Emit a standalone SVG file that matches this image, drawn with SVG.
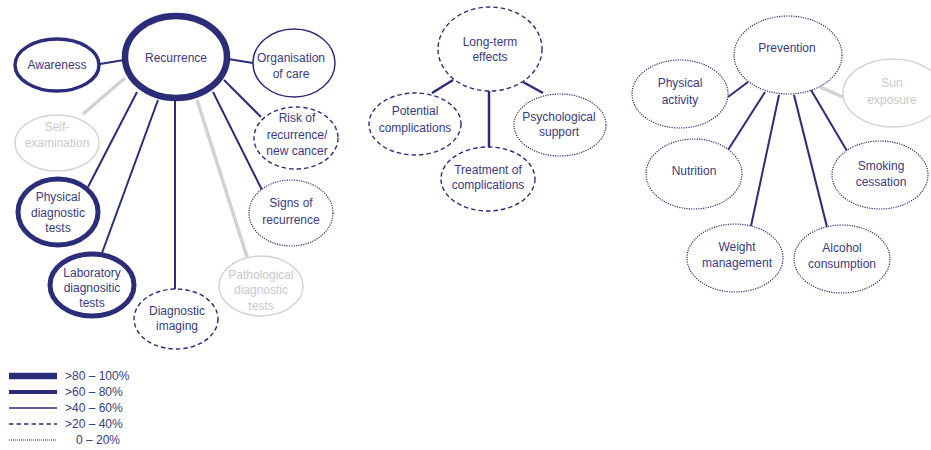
<svg xmlns="http://www.w3.org/2000/svg" width="931" height="450" viewBox="0 0 931 450">
<style>
text{font-family:"Liberation Sans","Noto Sans",Arial,sans-serif;font-size:12px;fill:#3a3a7e;text-anchor:middle}
text.g{fill:#c9c9c9}
text.l{text-anchor:start}
ellipse{fill:#fff}
.n6{stroke:#2c2d78;stroke-width:6.5}
.n5{stroke:#2c2d78;stroke-width:5}
.n4{stroke:#2c2d78;stroke-width:3.5}
.n2{stroke:#2c2d78;stroke-width:1.5}
.nd{stroke:#2c2d78;stroke-width:1.4;stroke-dasharray:4.5 3}
.nt{stroke:#2c2d78;stroke-width:1.2;stroke-dasharray:1.2 1.2}
.ng{stroke:#d4d4d4;stroke-width:1.5}
.c{stroke:#2c2d78;stroke-width:2;fill:none}
.cg{stroke:#d2d2d2;stroke-width:3.5;fill:none}
.c3{stroke:#2c2d78;stroke-width:2.5;fill:none}
</style>
<g id="connectors">
<line class="c" x1="100" y1="64" x2="124" y2="60"/>
<line class="c" x1="228" y1="59" x2="253" y2="63"/>
<line class="c" x1="224" y1="80" x2="261" y2="117"/>
<line class="c" x1="213" y1="92" x2="262" y2="190"/>
<line class="c" x1="175" y1="100" x2="175" y2="290"/>
<line class="cg" x1="197" y1="100" x2="247" y2="257"/>
<line class="cg" x1="125" y1="78" x2="83" y2="114"/>
<line class="c" x1="137" y1="92" x2="88" y2="187"/>
<line class="c" x1="158" y1="100" x2="102" y2="253"/>
<line class="c3" x1="453" y1="80" x2="432" y2="93"/>
<line class="c3" x1="489" y1="91" x2="489" y2="147"/>
<line class="c3" x1="523" y1="82" x2="543" y2="93"/>
<line class="c" x1="748" y1="82" x2="728" y2="97"/>
<line class="c" x1="765" y1="92" x2="728" y2="150"/>
<line class="c" x1="779" y1="95" x2="751" y2="226"/>
<line class="c" x1="794" y1="95" x2="827" y2="227"/>
<line class="c" x1="811" y1="90" x2="847" y2="151"/>
<line class="cg" x1="820" y1="87" x2="843" y2="97"/>
</g>
<g id="recurrence"><ellipse class="n6" cx="176" cy="57" rx="51" ry="41"/><text x="176" y="62">Recurrence</text></g>
<g id="awareness"><ellipse class="n4" cx="57" cy="65" rx="42" ry="26"/><text x="57" y="69">Awareness</text></g>
<g id="organisation"><ellipse class="n2" cx="294" cy="63" rx="41" ry="34"/><text x="291" y="62">Organisation</text><text x="291" y="78">of care</text></g>
<g id="risk"><ellipse class="nd" cx="296" cy="138" rx="42" ry="31"/><text x="297" y="122">Risk of</text><text x="297" y="139">recurrence/</text><text x="297" y="155">new cancer</text></g>
<g id="self-examination"><ellipse class="ng" cx="57" cy="143" rx="42" ry="28"/><text class="g" x="57" y="131">Self-</text><text class="g" x="57" y="147">examination</text></g>
<g id="physical-tests"><ellipse class="n5" cx="58" cy="212" rx="40" ry="33"/><text x="58" y="201">Physical</text><text x="58" y="217">diagnostic</text><text x="58" y="232">tests</text></g>
<g id="laboratory-tests"><ellipse class="n5" cx="92" cy="285" rx="42" ry="31"/><text x="92" y="277">Laboratory</text><text x="92" y="292">diagnositic</text><text x="92" y="307">tests</text></g>
<g id="diagnostic-imaging"><ellipse class="nd" cx="176" cy="319" rx="42" ry="30"/><text x="177" y="315">Diagnostic</text><text x="177" y="330">imaging</text></g>
<g id="pathological-tests"><ellipse class="ng" cx="261" cy="286" rx="42" ry="30"/><text class="g" x="261" y="279">Pathological</text><text class="g" x="261" y="294">diagnostic</text><text class="g" x="261" y="310">tests</text></g>
<g id="signs"><ellipse class="nt" cx="291" cy="213" rx="42" ry="33"/><text x="291" y="207">Signs of</text><text x="291" y="224">recurrence</text></g>
<g id="long-term"><ellipse class="nd" cx="490" cy="49" rx="52" ry="42"/><text x="490" y="46">Long-term</text><text x="490" y="61">effects</text></g>
<g id="potential"><ellipse class="nd" cx="415" cy="124" rx="46" ry="31"/><text x="415" y="115">Potential</text><text x="415" y="132">complications</text></g>
<g id="treatment"><ellipse class="nd" cx="488" cy="179" rx="47" ry="32"/><text x="488" y="174">Treatment of</text><text x="488" y="189">complications</text></g>
<g id="psychological"><ellipse class="nt" cx="560" cy="125" rx="46" ry="31"/><text x="559" y="121">Psychological</text><text x="559" y="136">support</text></g>
<g id="prevention"><ellipse class="nt" cx="788" cy="55" rx="54" ry="39"/><text x="787" y="52">Prevention</text></g>
<g id="physical-activity"><ellipse class="nt" cx="680" cy="94" rx="48" ry="34"/><text x="680" y="87">Physical</text><text x="680" y="104">activity</text></g>
<g id="sun-exposure"><ellipse class="ng" cx="893" cy="93" rx="50" ry="34"/><text class="g" x="892" y="87">Sun</text><text class="g" x="892" y="104">exposure</text></g>
<g id="nutrition"><ellipse class="nt" cx="694" cy="174" rx="48" ry="35"/><text x="694" y="175">Nutrition</text></g>
<g id="smoking"><ellipse class="nt" cx="880" cy="175" rx="48" ry="34"/><text x="881" y="170">Smoking</text><text x="881" y="186">cessation</text></g>
<g id="weight"><ellipse class="nt" cx="735" cy="258" rx="48" ry="34"/><text x="737" y="251">Weight</text><text x="737" y="267">management</text></g>
<g id="alcohol"><ellipse class="nt" cx="842" cy="259" rx="48" ry="34"/><text x="842" y="252">Alcohol</text><text x="842" y="268">consumption</text></g>
<g id="legend">
<line x1="9" y1="376" x2="57" y2="376" stroke="#2c2d78" stroke-width="6.5"/>
<line x1="9" y1="392" x2="57" y2="392" stroke="#2c2d78" stroke-width="4"/>
<line x1="9" y1="408" x2="57" y2="408" stroke="#2c2d78" stroke-width="1.5"/>
<line x1="9" y1="424" x2="57" y2="424" stroke="#2c2d78" stroke-width="1.4" stroke-dasharray="4.5 3"/>
<line x1="9" y1="440" x2="57" y2="440" stroke="#2c2d78" stroke-width="1" stroke-dasharray="1 1"/>
<text class="l" x="65" y="380">&gt;80 – 100%</text>
<text class="l" x="65" y="396">&gt;60 – 80%</text>
<text class="l" x="65" y="412">&gt;40 – 60%</text>
<text class="l" x="65" y="428">&gt;20 – 40%</text>
<text class="l" x="76" y="444">0 – 20%</text>
</g>
</svg>
